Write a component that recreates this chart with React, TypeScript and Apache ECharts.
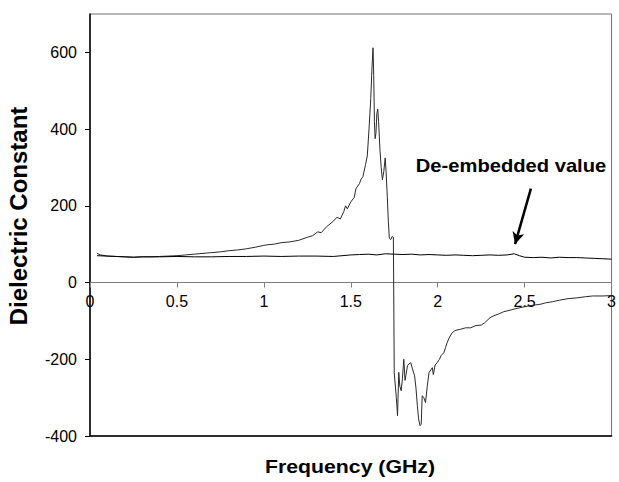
import React, { useEffect, useRef } from "react";
import * as echarts from "echarts";

// Frequency (GHz) and dielectric constant of the measured (resonant) curve
const measuredFreq = [
  0.04, 0.06, 0.1, 0.15, 0.2, 0.25, 0.3, 0.35, 0.4, 0.45, 0.5, 0.55, 0.6, 0.65, 0.7, 0.75, 0.8, 0.85, 0.9, 0.95,
  1.0, 1.03, 1.06, 1.1, 1.15, 1.2, 1.25, 1.28, 1.31, 1.33, 1.36, 1.4, 1.42, 1.44, 1.46, 1.47, 1.48, 1.5, 1.52, 1.53,
  1.55, 1.56, 1.57, 1.585, 1.595, 1.605, 1.615, 1.622, 1.628, 1.632, 1.636, 1.64, 1.645, 1.65, 1.655, 1.66, 1.668,
  1.675, 1.682, 1.69, 1.698, 1.703, 1.71, 1.716, 1.722, 1.73, 1.738, 1.745, 1.75, 1.762, 1.769, 1.776, 1.782, 1.79,
  1.797, 1.805, 1.812, 1.818, 1.826, 1.835, 1.845, 1.855, 1.867, 1.875, 1.883, 1.89, 1.898, 1.905, 1.911, 1.92,
  1.93, 1.94, 1.95, 1.96, 1.969, 1.975, 1.985, 1.997, 2.01, 2.02, 2.035, 2.045, 2.054, 2.065, 2.083, 2.1, 2.13,
  2.16, 2.19, 2.22, 2.25, 2.27, 2.3, 2.32, 2.35, 2.38, 2.416, 2.45, 2.5, 2.55, 2.587, 2.62, 2.66, 2.7, 2.75, 2.8,
  2.85, 2.89, 2.95, 3.0,
];
const measuredValue = [
  76, 72, 69, 68, 67, 66, 67, 67, 68, 69, 70, 72, 74, 76, 78, 80, 83, 85, 88, 92,
  97, 99, 100, 104, 106, 110, 118, 122, 132, 130, 145, 160, 170, 166, 185, 200, 192, 210, 222, 245,
  258, 270, 276, 308, 330, 400, 480, 560, 612, 540, 420, 375, 390, 440, 452, 420, 345,
  300, 268, 290, 325, 290, 225, 160, 115, 112, 120, 118, -235, -300, -347, -234, -270, -282,
  -250, -200, -255, -240, -217, -212, -209, -225, -243, -275, -321, -355, -373, -370, -295, -300,
  -313, -270, -235, -228, -222, -240, -215, -209, -200, -190, -183, -170, -157, -145, -131, -125, -122,
  -118, -118, -112, -111, -105, -92, -87, -82, -76, -72, -68, -63, -59, -57, -53, -50, -46, -42, -40,
  -37, -35, -35, -34,
];

// De-embedded value
const deembFreq = [
  0.04, 0.1, 0.2, 0.25, 0.3, 0.4, 0.5, 0.6, 0.7, 0.8, 0.9, 1.0, 1.1, 1.2, 1.3, 1.4, 1.45, 1.5, 1.55, 1.6, 1.65,
  1.7, 1.75, 1.8, 1.85, 1.9, 1.95, 2.0, 2.05, 2.1, 2.15, 2.2, 2.25, 2.3, 2.35, 2.4, 2.44, 2.47, 2.5, 2.55, 2.6,
  2.65, 2.7, 2.75, 2.8, 2.85, 2.9, 2.95, 3.0,
];
const deembValue = [
  70, 69, 67, 66, 67, 67, 68, 67, 67, 68, 68, 69, 68, 69, 69, 68, 70, 72, 73, 74, 72,
  75, 74, 73, 74, 72, 73, 72, 71, 72, 71, 70, 71, 72, 71, 72, 75, 70, 66, 65, 66,
  64, 66, 65, 65, 64, 63, 62, 61,
];

const xTicks = [0, 0.5, 1, 1.5, 2, 2.5, 3];
const yTicks = [-400, -200, 0, 200, 400, 600];
const Y_MIN = -400;
const Y_MAX = 700;

// Annotation arrow (data coordinates): from / to
const arrowFrom = [2.536, 245];
const arrowTo = [2.445, 100];

const FONT = "'Liberation Sans', Arial, Helvetica, sans-serif";

const GRID_TOP = 14;
const GRID_BOTTOM = 46;
const HEIGHT = 482;

export default function App() {
  const ref = useRef<HTMLDivElement>(null);

  useEffect(() => {
    if (!ref.current) return;
    const chart = echarts.init(ref.current, undefined, { renderer: "svg" });
    const measured = measuredFreq.map((f, i) => [f, measuredValue[i]]);
    const deemb = deembFreq.map((f, i) => [f, deembValue[i]]);

    // distance from the grid bottom to the value 0, so the labelled axis sits on zero
    const plotH = HEIGHT - GRID_TOP - GRID_BOTTOM;
    const zeroOffset = -((0 - Y_MIN) / (Y_MAX - Y_MIN)) * plotH;

    chart.setOption({
      animation: false,
      backgroundColor: "#ffffff",
      grid: {
        left: 90,
        right: 3,
        top: GRID_TOP,
        bottom: GRID_BOTTOM,
        show: true,
        borderColor: "#707070",
        borderWidth: 1,
        backgroundColor: "transparent",
      },
      xAxis: [
        {
          type: "value",
          min: 0,
          max: 3,
          interval: 0.5,
          position: "bottom",
          offset: zeroOffset,
          axisLine: { show: true, onZero: false, lineStyle: { color: "#808080", width: 1 } },
          axisTick: { show: true, inside: false, length: 5, lineStyle: { color: "#808080" }, customValues: xTicks },
          axisLabel: {
            color: "#000",
            fontSize: 16,
            fontFamily: FONT,
            margin: 11,
            customValues: xTicks,
          },
          splitLine: { show: false },
        },
        {
          type: "value",
          min: 0,
          max: 3,
          position: "bottom",
          axisLine: { show: true, onZero: false, lineStyle: { color: "#000", width: 1.5 } },
          axisTick: { show: false },
          axisLabel: { show: false },
          splitLine: { show: false },
        },
      ],
      yAxis: {
        type: "value",
        min: Y_MIN,
        max: Y_MAX,
        interval: 100,
        axisLine: { show: true, onZero: false, lineStyle: { color: "#000", width: 1.5 } },
        axisTick: { show: true, length: 5, lineStyle: { color: "#000" }, customValues: yTicks },
        axisLabel: {
          color: "#000",
          fontSize: 16,
          fontFamily: FONT,
          margin: 13,
          customValues: yTicks,
        },
        splitLine: { show: false },
      },
      graphic: [
        {
          type: "text",
          x: 18,
          y: 216,
          rotation: Math.PI / 2,
          style: {
            text: "Dielectric Constant",
            fontSize: 24,
            fontWeight: "bold",
            fontFamily: FONT,
            fill: "#000",
            align: "center",
            verticalAlign: "middle",
          },
        },
        {
          type: "text",
          x: 350,
          y: 466,
          scaleX: 1.12,
          style: {
            text: "Frequency (GHz)",
            fontSize: 19,
            fontWeight: "bold",
            fontFamily: FONT,
            fill: "#000",
            align: "center",
            verticalAlign: "middle",
          },
        },
        {
          type: "text",
          x: 511,
          y: 166,
          scaleX: 1.12,
          style: {
            text: "De-embedded value",
            fontSize: 18,
            fontWeight: "bold",
            fontFamily: FONT,
            fill: "#000",
            align: "center",
            verticalAlign: "middle",
          },
        },
      ],
      series: [
        {
          name: "Measured",
          type: "line",
          data: measured,
          showSymbol: false,
          symbol: "none",
          lineStyle: { color: "#2a2a2a", width: 1 },
          silent: true,
        },
        {
          name: "De-embedded value",
          type: "line",
          data: deemb,
          showSymbol: false,
          symbol: "none",
          lineStyle: { color: "#000", width: 1 },
          silent: true,
          markLine: {
            silent: true,
            symbol: ["none", "arrow"],
            symbolSize: [9, 12],
            label: { show: false },
            lineStyle: { color: "#000", width: 2.5, type: "solid" },
            data: [
              [
                { coord: arrowFrom },
                { coord: arrowTo },
              ],
            ],
          },
        },
      ],
    });
    return () => chart.dispose();
  }, []);

  return (
    <div
      ref={ref}
      style={{ position: "fixed", left: 0, top: 0, width: 619, height: 482, background: "#fff" }}
    />
  );
}
